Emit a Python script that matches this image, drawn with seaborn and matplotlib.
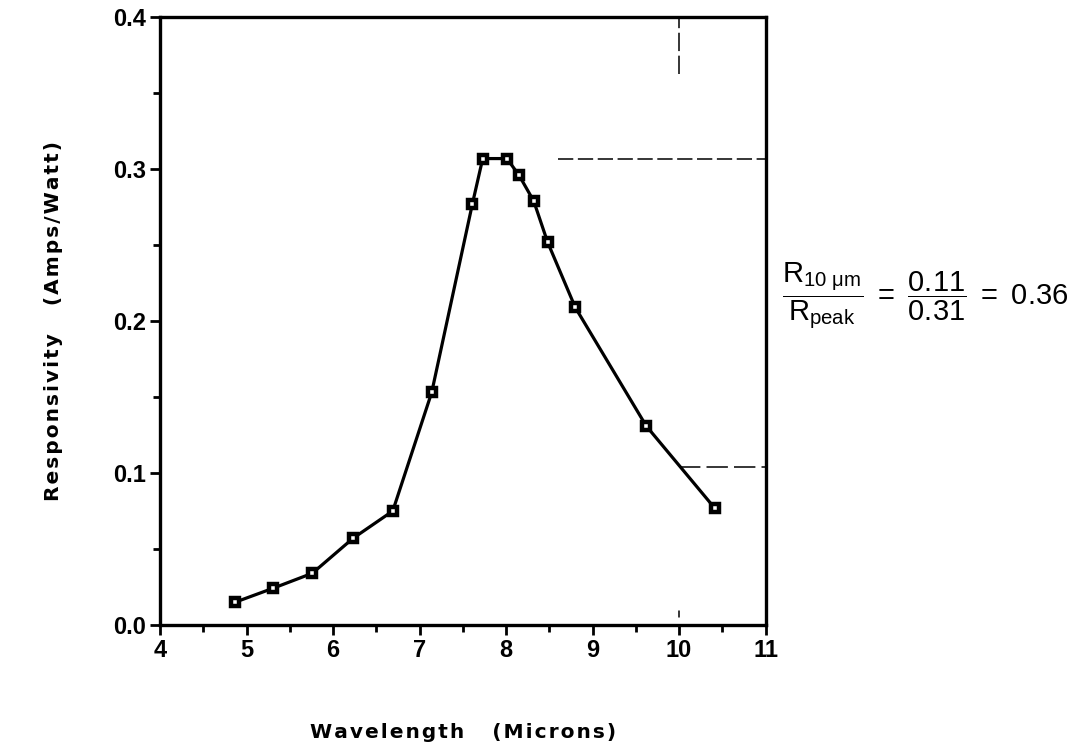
"""
Spectral responsivity of the detector, with the 10 micron / peak ratio
"""

import pandas as pd
import numpy as np
import seaborn as sns
import matplotlib.pyplot as plt

wavelength = [4.87, 5.30, 5.76, 6.23, 6.69, 7.14, 7.61, 7.73, 8.01, 8.15,
              8.32, 8.48, 8.80, 9.62, 10.41]
responsivity = [0.015, 0.024, 0.034, 0.057, 0.075, 0.153, 0.277, 0.307,
                0.307, 0.296, 0.279, 0.252, 0.209, 0.131, 0.077]

r_peak = 0.307
r_10um = 0.104
x_10um = 10.0

x_ticks = [4, 5, 6, 7, 8, 9, 10, 11]
y_ticks = [0.0, 0.1, 0.2, 0.3, 0.4]
y_tick_labels = ["0.0", "0.1", "0.2", "0.3", "0.4"]

resp = pd.DataFrame({"Wavelength": wavelength, "Responsivity": responsivity})

sns.set_theme(style="ticks")
plt.rcParams["font.family"] = ["DejaVu Sans"]
plt.rcParams["text.color"] = "black"
plt.rcParams["axes.labelcolor"] = "black"
plt.rcParams["xtick.color"] = "black"
plt.rcParams["ytick.color"] = "black"
plt.rcParams["mathtext.fontset"] = "custom"
plt.rcParams["mathtext.rm"] = "Liberation Sans"
plt.rcParams["mathtext.it"] = "Liberation Sans:italic"


def spaced(s, gap="\u200a"):
    # the original lettering is set wide, so pad each letter with a hair space
    return gap.join(s)


fig = plt.figure(figsize=(10.89, 7.52), dpi=100)
ax = fig.add_axes([0.147, 0.169, 0.556, 0.808])

# reference lines for R at 10 um and R peak
ax.plot([8.6, 11], [r_peak, r_peak], color="black", lw=1.1, ls=(0, (10, 3)))
ax.plot([x_10um, 11], [r_10um, r_10um], color="black", lw=1.1, ls=(0, (14, 4)))
ax.plot([x_10um, x_10um], [0.363, 0.4], color="black", lw=1.1, ls=(0, (12, 3)))
ax.plot([x_10um, x_10um], [0.005, 0.009], color="black", lw=1.1)

sns.lineplot(data=resp, x="Wavelength", y="Responsivity", ax=ax,
             color="black", lw=2.3, marker="s", markersize=5.5,
             markerfacecolor="white", markeredgecolor="black",
             markeredgewidth=3.2)

ax.set_xlim(4, 11)
ax.set_ylim(0, 0.4)
ax.set_xticks(x_ticks)
ax.set_xticks(np.arange(4.5, 11, 1.0), minor=True)
ax.set_yticks(y_ticks)
ax.set_yticklabels(y_tick_labels)
ax.set_yticks(np.arange(0.05, 0.4, 0.1), minor=True)
ax.tick_params(which="both", direction="out", width=2, color="black",
               labelcolor="black", labelsize=17, pad=3)
ax.tick_params(which="major", length=7)
ax.tick_params(which="minor", length=5)
for lab in ax.get_xticklabels() + ax.get_yticklabels():
    lab.set_fontweight("bold")
    lab.set_family(["Liberation Sans", "DejaVu Sans"])
for s in ax.spines.values():
    s.set_linewidth(2.4)
    s.set_color("black")

ax.set_xlabel(spaced("Wavelength") + "    " + spaced("(Microns)"),
              fontsize=14.5, fontweight="bold", labelpad=44)
ax.set_ylabel(spaced("Responsivity") + "    " + spaced("(Amps/Watt)"),
              fontsize=14.5, fontweight="bold", labelpad=36)

fig.text(0.718, 0.607,
         r"$\dfrac{\mathrm{R}_{\mathrm{10\ \mu m}}}{\mathrm{R}_{\mathrm{peak}}}"
         r"\ =\ \dfrac{0.11}{0.31}\ =\ 0.36$",
         fontsize=21, va="center", ha="left", color="black")

plt.savefig("out.png", dpi=100)
